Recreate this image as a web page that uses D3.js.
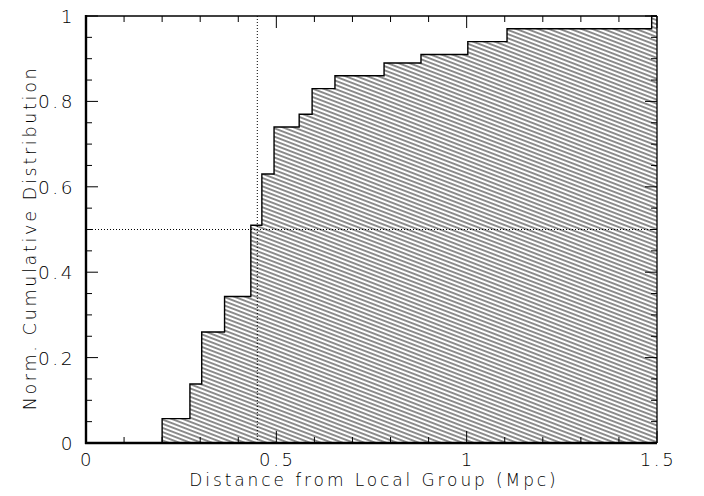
<!DOCTYPE html>
<html>
<head>
<meta charset="utf-8">
<script src="https://cdn.jsdelivr.net/npm/d3@7"></script>
<style>
  body { margin: 0; background: #fff; }
  text { font-family: "DejaVu Sans", sans-serif; font-weight: 200; fill: #000; }
</style>
</head>
<body>
<svg id="chart" width="704" height="496"></svg>
<script>
// step edges (Mpc) and cumulative fraction after each edge
var stepX = [0.2, 0.273, 0.304, 0.364, 0.433, 0.462, 0.494, 0.56, 0.594, 0.654, 0.783, 0.88, 1.003, 1.106, 1.486];
var stepY = [0.057, 0.138, 0.26, 0.343, 0.51, 0.63, 0.74, 0.77, 0.83, 0.86, 0.89, 0.91, 0.94, 0.97, 1.0];
var xTicks = [0, 0.5, 1, 1.5];
var xTickLabels = ["0", "0.5", "1", "1.5"];
var yTicks = [0, 0.2, 0.4, 0.6, 0.8, 1];
var yTickLabels = ["0", "0.2", "0.4", "0.6", "0.8", "1"];
var medianX = 0.45;
var medianY = 0.5;

var svg = d3.select("#chart");
var pLeft = 86, pRight = 657, pTop = 16, pBottom = 443;

var x = d3.scaleLinear().domain([0, 1.5]).range([pLeft, pRight]);
var y = d3.scaleLinear().domain([0, 1]).range([pBottom, pTop]);

// hatch pattern
var defs = svg.append("defs");
defs.append("pattern")
  .attr("id", "hatch")
  .attr("patternUnits", "userSpaceOnUse")
  .attr("width", 20).attr("height", 3.9)
  .attr("patternTransform", "rotate(21)")
  .append("line")
  .attr("x1", 0).attr("x2", 20).attr("y1", 1.95).attr("y2", 1.95)
  .attr("stroke", "#000").attr("stroke-width", 0.9);

var pts = stepX.map(function(d, i) { return [d, stepY[i]]; });
pts.push([1.5, stepY[stepY.length - 1]]);

var area = d3.area()
  .x(function(d) { return x(d[0]); })
  .y0(y(0))
  .y1(function(d) { return y(d[1]); })
  .curve(d3.curveStepAfter);

svg.append("path").datum(pts)
  .attr("d", area)
  .attr("fill", "url(#hatch)");

var line = d3.line()
  .x(function(d) { return x(d[0]); })
  .y(function(d) { return y(d[1]); })
  .curve(d3.curveStepAfter);

var outline = [[stepX[0], 0]].concat(pts);
svg.append("path").datum(outline)
  .attr("d", line)
  .attr("fill", "none")
  .attr("stroke", "#000")
  .attr("stroke-width", 1.4);

// median guide lines
svg.append("line")
  .attr("x1", x(medianX)).attr("x2", x(medianX))
  .attr("y1", y(0)).attr("y2", y(1))
  .attr("stroke", "#000").attr("stroke-width", 1)
  .attr("stroke-dasharray", "1,2");
svg.append("line")
  .attr("x1", x(0)).attr("x2", x(1.5))
  .attr("y1", y(medianY)).attr("y2", y(medianY))
  .attr("stroke", "#000").attr("stroke-width", 1)
  .attr("stroke-dasharray", "1,2");

// ticks on all four sides, pointing inward
var g = svg.append("g").attr("stroke", "#000").attr("stroke-width", 1);
d3.range(0, 1.5001, 0.1).forEach(function(v) {
  var major = Math.abs(v * 2 - Math.round(v * 2)) < 1e-6;
  var len = major ? 12 : 6;
  g.append("line").attr("x1", x(v)).attr("x2", x(v)).attr("y1", pBottom).attr("y2", pBottom - len);
  g.append("line").attr("x1", x(v)).attr("x2", x(v)).attr("y1", pTop).attr("y2", pTop + len);
});
d3.range(0, 1.0001, 0.05).forEach(function(v) {
  var major = Math.abs(v * 5 - Math.round(v * 5)) < 1e-6;
  var len = major ? 12 : 6;
  g.append("line").attr("x1", pLeft).attr("x2", pLeft + len).attr("y1", y(v)).attr("y2", y(v));
  g.append("line").attr("x1", pRight).attr("x2", pRight - len).attr("y1", y(v)).attr("y2", y(v));
});

// frame
svg.append("line").attr("x1", pLeft).attr("x2", pRight).attr("y1", pTop).attr("y2", pTop)
  .attr("stroke", "#000").attr("stroke-width", 1.3);
svg.append("line").attr("x1", pRight).attr("x2", pRight).attr("y1", pTop).attr("y2", pBottom)
  .attr("stroke", "#000").attr("stroke-width", 1.3);
svg.append("line").attr("x1", pLeft).attr("x2", pLeft).attr("y1", pTop - 1).attr("y2", pBottom + 1)
  .attr("stroke", "#000").attr("stroke-width", 2.4);
svg.append("line").attr("x1", pLeft - 1).attr("x2", pRight).attr("y1", pBottom).attr("y2", pBottom)
  .attr("stroke", "#000").attr("stroke-width", 2.4);

// tick labels
xTicks.forEach(function(v, i) {
  svg.append("text")
    .attr("x", x(v) + 1).attr("y", 466)
    .attr("text-anchor", "middle")
    .attr("font-size", 18)
    .attr("letter-spacing", 2.6)
    .text(xTickLabels[i]);
});
yTicks.forEach(function(v, i) {
  svg.append("text")
    .attr("x", 75).attr("y", y(v) + 7)
    .attr("text-anchor", "end")
    .attr("font-size", 18.5)
    .attr("letter-spacing", 2.5)
    .text(yTickLabels[i]);
});

// axis titles
svg.append("text")
  .attr("x", 374).attr("y", 486)
  .attr("text-anchor", "middle")
  .attr("font-size", 17)
  .attr("letter-spacing", 2.9)
  .text("Distance from Local Group (Mpc)");
svg.append("text")
  .attr("transform", "translate(36,238) rotate(-90)")
  .attr("text-anchor", "middle")
  .attr("font-size", 17.5)
  .attr("letter-spacing", 2.7)
  .text("Norm. Cumulative Distribution");
</script>
</body>
</html>
